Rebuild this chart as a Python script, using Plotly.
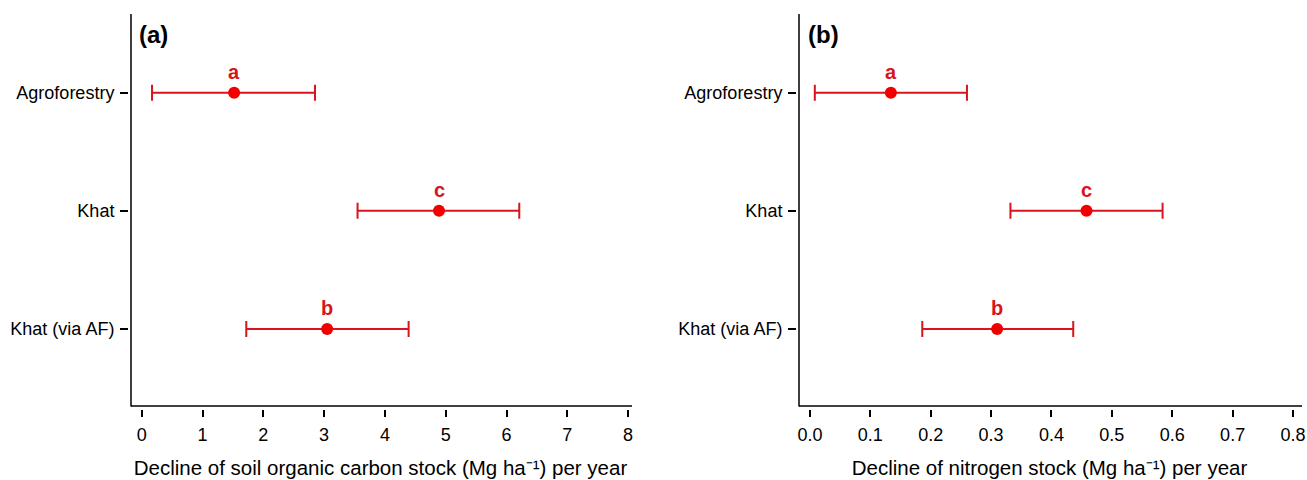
import plotly.graph_objects as go

# ---- data ----
categories = ["Agroforestry", "Khat", "Khat (via AF)"]
letters = ["a", "c", "b"]

soc_mean = [1.52, 4.89, 3.05]
soc_low = [0.17, 3.55, 1.72]
soc_high = [2.85, 6.21, 4.39]

n_mean = [0.134, 0.458, 0.310]
n_low = [0.008, 0.332, 0.186]
n_high = [0.260, 0.584, 0.436]

soc_ticks = [0, 1, 2, 3, 4, 5, 6, 7, 8]
n_ticks = [0.0, 0.1, 0.2, 0.3, 0.4, 0.5, 0.6, 0.7, 0.8]

x_titles = ["Decline of soil organic carbon stock (Mg ha⁻¹) per year",
            "Decline of nitrogen stock (Mg ha⁻¹) per year"]
panel_labels = ["(a)", "(b)"]

# ---- styling ----
W, H = 1307, 480
FONT = "Liberation Sans, Arial, Helvetica, sans-serif"
BAR_COLOR = "#d8141c"
DOT_COLOR = "#f20000"

def px_x(p):
    return p / W

def px_y(p):
    return 1 - p / H

dom_a = [px_x(129), px_x(632)]
dom_b = [px_x(797), px_x(1302)]
ydom = [px_y(409), px_y(14)]

fig = go.Figure()

def add_panel(mean, low, high, xa, ya):
    plus = [h - m for h, m in zip(high, mean)]
    minus = [m - l for m, l in zip(mean, low)]
    fig.add_trace(go.Scatter(
        x=mean, y=categories, mode="markers",
        xaxis=xa, yaxis=ya,
        marker=dict(size=12, color=DOT_COLOR),
        error_x=dict(type="data", array=plus, arrayminus=minus,
                     color=BAR_COLOR, thickness=2, width=8),
        showlegend=False, hoverinfo="x+y",
    ))
    for m, c, lt in zip(mean, categories, letters):
        fig.add_annotation(x=m, y=c, xref=xa, yref=ya, text="<b>%s</b>" % lt,
                           showarrow=False, yshift=21,
                           font=dict(family=FONT, size=20, color=BAR_COLOR))

add_panel(soc_mean, soc_low, soc_high, "x", "y")
add_panel(n_mean, n_low, n_high, "x2", "y2")

common_y = dict(type="category", categoryorder="array",
                categoryarray=list(reversed(categories)),
                range=[-0.677, 2.666], showline=False, showgrid=False,
                zeroline=False, ticks="outside", ticklen=8, tickwidth=1.5,
                tickcolor="black", tickfont=dict(family=FONT, size=18, color="black"),
                ticklabelstandoff=2, automargin=False, domain=ydom)

common_x = dict(showline=False, showgrid=False, zeroline=False, ticks="outside",
                ticklen=7, tickwidth=1.5, tickcolor="black",
                tickfont=dict(family=FONT, size=18, color="black"),
                ticklabelstandoff=2, automargin=False)

title_font = dict(family=FONT, size=20.5, color="black")

fig.update_layout(
    width=W, height=H,
    margin=dict(l=0, r=0, t=0, b=0),
    paper_bgcolor="white", plot_bgcolor="white",
    xaxis=dict(common_x, domain=dom_a, range=[-0.209, 8.064], tickvals=soc_ticks,
               ticktext=[str(t) for t in soc_ticks], anchor="y",
               title=dict(text=x_titles[0], font=title_font, standoff=17)),
    yaxis=dict(common_y, anchor="x"),
    xaxis2=dict(common_x, domain=dom_b, range=[-0.0215, 0.8149], tickvals=n_ticks,
                ticktext=["%.1f" % t for t in n_ticks], anchor="y2",
                title=dict(text=x_titles[1], font=title_font, standoff=17)),
    yaxis2=dict(common_y, anchor="x2"),
)

# axis lines (offset from the ticks, as in the reference)
for xl, xr in [(131, 632), (799, 1302)]:
    fig.add_shape(type="line", xref="paper", yref="paper",
                  x0=px_x(xl), x1=px_x(xl), y0=px_y(14), y1=px_y(406.5),
                  line=dict(color="black", width=1.5))
    fig.add_shape(type="line", xref="paper", yref="paper",
                  x0=px_x(xl), x1=px_x(xr), y0=px_y(406), y1=px_y(406),
                  line=dict(color="black", width=1.5))

for lab, xl in zip(panel_labels, [137, 806]):
    fig.add_annotation(x=px_x(xl), y=px_y(35), xref="paper", yref="paper",
                       xanchor="left", yanchor="middle", showarrow=False,
                       text="<b>%s</b>" % lab,
                       font=dict(family=FONT, size=24, color="black"))

fig.write_html(
    "out.html",
    config={"displayModeBar": False},
    post_script="document.body.style.margin='0';document.body.style.overflow='hidden';",
)
